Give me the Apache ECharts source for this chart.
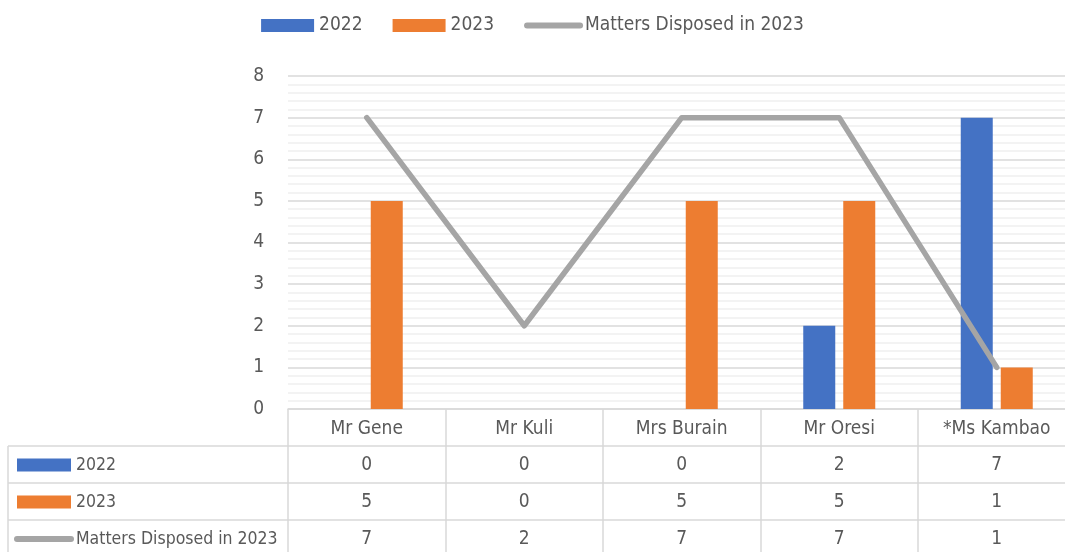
<!DOCTYPE html>
<html>
<head>
<meta charset="utf-8">
<script src="https://cdn.jsdelivr.net/npm/echarts@6/dist/echarts.min.js"></script>
<style>html,body{margin:0;padding:0;background:#fff}#c{width:1065px;height:552px}</style>
</head>
<body>
<div id="c"></div>
<script>
const categories = ['Mr Gene', 'Mr Kuli', 'Mrs Burain', 'Mr Oresi', '*Ms Kambao'];
const values2022 = [0, 0, 0, 2, 7];
const values2023 = [5, 0, 5, 5, 1];
const disposed2023 = [7, 2, 7, 7, 1];
const seriesNames = ['2022', '2023', 'Matters Disposed in 2023'];
const yMin = 0, yMax = 8, yInterval = 1;

const FONT = '"DejaVu Sans", sans-serif';
const FW = 'condensed';
const TXT = '#595959';
const GRID_C = '#d9d9d9';
const gridLeft = 288, gridTop = 76, gridHeight = 333, catW = 157.5;
const rowH = 37;
const baseY = gridTop + gridHeight;

const chart = echarts.init(document.getElementById('c'), null, {renderer: 'canvas'});

const tableRows = [values2022, values2023, disposed2023];
const extraAxes = tableRows.map((arr, k) => ({
  type: 'category', gridIndex: 0, position: 'bottom', data: categories,
  offset: rowH * (k + 1),
  axisLine: {show: true, lineStyle: {color: GRID_C, width: 1.5}},
  axisTick: {show: false},
  axisLabel: {margin: 10, fontSize: 19, color: TXT, fontFamily: FONT, fontWeight: FW, interval: 0,
    formatter: (v, i) => String(arr[i])}
}));

const legendData = [
  {name: seriesNames[0], icon: 'rect'},
  {name: seriesNames[1], icon: 'rect'},
  {name: seriesNames[2], itemStyle: {color: 'rgba(0,0,0,0)', borderColor: 'rgba(0,0,0,0)', borderWidth: 0}}
];

const option = {
  animation: false,
  textStyle: {fontFamily: FONT},
  legend: [{
    top: 16, left: 'center', itemWidth: 53, itemHeight: 13, itemGap: 30, padding: 0,
    textStyle: {fontSize: 19, color: TXT, fontFamily: FONT, fontWeight: FW},
    lineStyle: {width: 6, cap: 'round'},
    data: legendData
  }, {
    orient: 'vertical', left: 14, top: 455, itemWidth: 54, itemHeight: 13, itemGap: 17, padding: 0,
    height: 130,
    textStyle: {fontSize: 17.5, lineHeight: 20, color: TXT, fontFamily: FONT, fontWeight: FW},
    lineStyle: {width: 6, cap: 'round'},
    data: legendData
  }],
  grid: {left: gridLeft, top: gridTop, width: catW * categories.length, height: gridHeight,
    containLabel: false, outerBoundsMode: 'none'},
  xAxis: [{
    type: 'category', data: categories, position: 'bottom',
    axisLine: {show: true, lineStyle: {color: GRID_C, width: 1.5}},
    axisTick: {show: true, alignWithLabel: false, length: 150, lineStyle: {color: GRID_C, width: 1.5}},
    axisLabel: {margin: 11, fontSize: 19, color: TXT, fontFamily: FONT, fontWeight: FW, interval: 0}
  }].concat(extraAxes),
  yAxis: {
    type: 'value', min: yMin, max: yMax, interval: yInterval,
    axisLine: {show: false}, axisTick: {show: false},
    axisLabel: {margin: 24, fontSize: 19, color: TXT, fontFamily: FONT, fontWeight: FW},
    splitLine: {lineStyle: {color: GRID_C, width: 1.5}},
    minorTick: {show: false, splitNumber: 5},
    minorSplitLine: {show: true, lineStyle: {color: '#f0f0f0', width: 1.5}}
  },
  series: [{
    name: seriesNames[0], type: 'bar', data: values2022, barWidth: 32, barGap: '25%',
    itemStyle: {color: '#4472C4'}
  }, {
    name: seriesNames[1], type: 'bar', data: values2023, barWidth: 32, barGap: '25%',
    itemStyle: {color: '#ED7D31'}
  }, {
    name: seriesNames[2], type: 'line', data: disposed2023, symbol: 'none', z: 5,
    itemStyle: {color: '#A5A5A5'},
    lineStyle: {color: '#A5A5A5', width: 5.5, cap: 'round', join: 'round'}
  }],
  graphic: [0, 1, 2].map(k => ({
    type: 'line', silent: true,
    shape: {x1: 8, y1: baseY + rowH * (k + 1), x2: gridLeft, y2: baseY + rowH * (k + 1)},
    style: {stroke: GRID_C, lineWidth: 1.5}
  })).concat([{
    type: 'line', silent: true,
    shape: {x1: 8, y1: baseY + rowH, x2: 8, y2: 560},
    style: {stroke: GRID_C, lineWidth: 1.5}
  }])
};
chart.setOption(option);
</script>
</body>
</html>
